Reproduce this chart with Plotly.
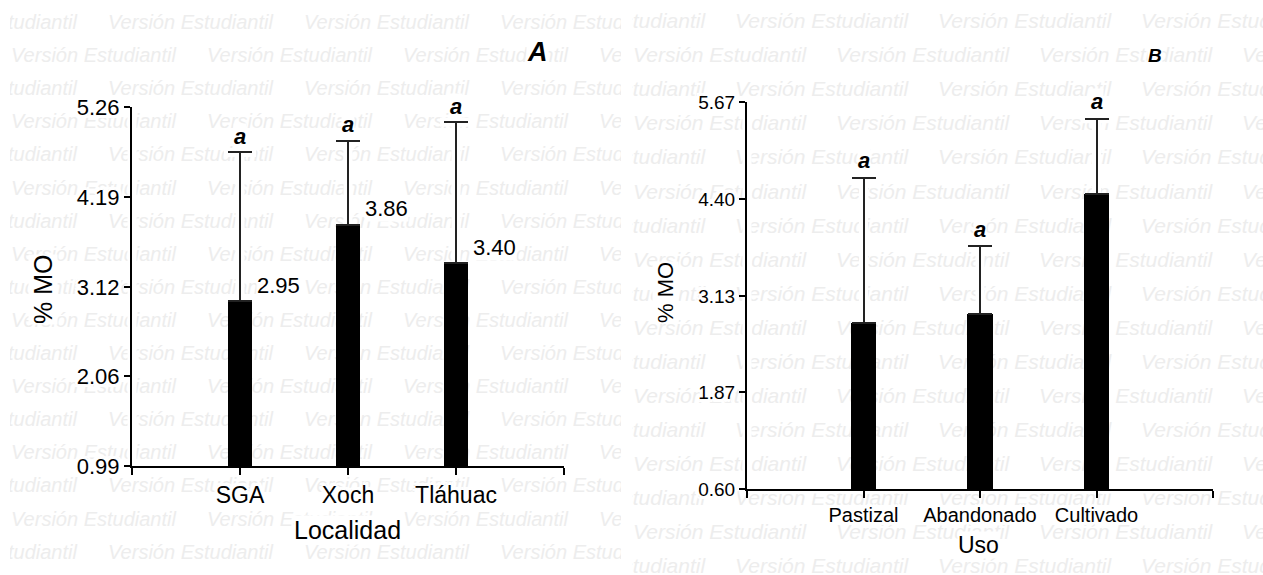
import plotly.graph_objects as go

W, H = 1263, 575
FONT = "Liberation Sans, Arial, sans-serif"

# ---------------- data ----------------
loc_categories = ["SGA", "Xoch", "Tláhuac"]
loc_means = [2.95, 3.86, 3.40]
loc_sd = [1.77, 1.00, 1.68]
loc_value_labels = ["2.95", "3.86", "3.40"]
loc_letters = ["a", "a", "a"]
loc_yticks = [0.99, 2.06, 3.12, 4.19, 5.26]

uso_categories = ["Pastizal", "Abandonado", "Cultivado"]
uso_means = [2.78, 2.89, 4.47]
uso_sd = [1.90, 0.89, 0.98]
uso_letters = ["a", "a", "a"]
uso_yticks = [0.60, 1.87, 3.13, 4.40, 5.67]

watermark_text = "Versión Estudiantil"

# ---------------- geometry (pixels) ----------------
A_BOX = dict(l=132, r=564, t=107, b=466)
B_BOX = dict(l=747, r=1213, t=102, b=489)
WM_L = dict(l=10, r=621, size=20, period=196, v0=11, t0=108 - 196, y0=24, dy=33.1, n=17)
WM_R = dict(l=632, r=1263, size=21, period=203, v0=633, t0=735 - 203, y0=23, dy=34.06, n=17)
WM_COLOR = "#ededed"
CAP_HALF = 12

def px(x):
    return x / W

def py(y):
    return 1 - y / H

fig = go.Figure()

# ---------------- watermark (drawn first, under everything) ----------------
def add_watermark(cfg, xa, ya, box, means, sd, yticks):
    xs, ys = [], []
    for j in range(cfg["n"]):
        y = cfg["y0"] + j * cfg["dy"]
        x = cfg["t0"] if j % 2 == 0 else cfg["v0"]
        while x < cfg["r"]:
            xs.append(x)
            ys.append(y)
            x += cfg["period"]
    fig.add_trace(go.Scatter(
        x=xs, y=ys, mode="text", text=[watermark_text] * len(xs),
        textposition="middle right",
        textfont=dict(family=FONT, size=cfg["size"], color=WM_COLOR, style="italic"),
        xaxis=xa, yaxis=ya, hoverinfo="skip", showlegend=False, cliponaxis=True))
    # white halo around axis lines and error bars (as the original software does)
    n = len(means)
    unit = (box["r"] - box["l"]) / (n + 1)
    def to_px(xv, yv):
        return (box["l"] + xv * unit,
                box["b"] - (yv - yticks[0]) / (yticks[-1] - yticks[0]) * (box["b"] - box["t"]))
    ex = [box["l"], box["l"], box["r"], None]
    ey = [box["t"] - 3, box["b"], box["b"], None]
    for i, (m, s) in enumerate(zip(means, sd)):
        x0, y0 = to_px(i + 1, m)
        _, y1 = to_px(i + 1, m + s)
        ex += [x0, x0, None, x0 - CAP_HALF - 4, x0 + CAP_HALF + 4, None]
        ey += [y0, y1, None, y1, y1, None]
    fig.add_trace(go.Scatter(
        x=ex, y=ey, mode="lines", line=dict(color="white", width=9),
        xaxis=xa, yaxis=ya, hoverinfo="skip", showlegend=False))

add_watermark(WM_L, "x", "y", A_BOX, loc_means, loc_sd, loc_yticks)
add_watermark(WM_R, "x2", "y2", B_BOX, uso_means, uso_sd, uso_yticks)

# ---------------- bar panels ----------------
def add_panel(cats, means, sd, xa, ya, width_frac):
    n = len(cats)
    fig.add_trace(go.Bar(
        x=list(range(1, n + 1)), y=means, width=width_frac,
        marker=dict(color="black", line=dict(width=0)),
        error_y=dict(type="data", symmetric=False, array=sd, arrayminus=[0] * n,
                     color="#222222", thickness=2, width=CAP_HALF),
        xaxis=xa, yaxis=ya, showlegend=False, hoverinfo="skip"))

add_panel(loc_categories, loc_means, loc_sd, "x3", "y3", 0.23)
add_panel(uso_categories, uso_means, uso_sd, "x4", "y4", 0.215)

halo = ", ".join(f"{dx}px {dy}px 0 #fff" for dx, dy in
                 [(3, 0), (-3, 0), (0, 3), (0, -3), (3, 3), (-3, -3), (3, -3), (-3, 3)])

def axis_pair(box, cats, yticks, xfs, yfs):
    n = len(cats)
    xa = dict(domain=[px(box["l"]), px(box["r"])], range=[0, n + 1],
              tickmode="array", tickvals=list(range(0, n + 2)),
              ticktext=[""] + cats + [""],
              ticks="outside", ticklen=7, tickwidth=2, tickcolor="black",
              showline=True, linewidth=2, linecolor="black", automargin=False,
              showgrid=False, zeroline=False, fixedrange=True,
              tickfont=dict(family=FONT, size=xfs, color="black", shadow=halo))
    ya = dict(domain=[py(box["b"]), py(box["t"])], range=[yticks[0], yticks[-1]],
              tickmode="array", tickvals=yticks, ticktext=[f"{v:.2f}" for v in yticks],
              ticks="outside", ticklen=6, tickwidth=2, tickcolor="black",
              showline=True, linewidth=2, linecolor="black", automargin=False,
              showgrid=False, zeroline=False, fixedrange=True,
              tickfont=dict(family=FONT, size=yfs, color="black", shadow=halo))
    return xa, ya

xa3, ya3 = axis_pair(A_BOX, loc_categories, loc_yticks, 23, 22)
xa4, ya4 = axis_pair(B_BOX, uso_categories, uso_yticks, 20, 19)
xa3["anchor"] = "y3"; ya3["anchor"] = "x3"
xa4["anchor"] = "y4"; ya4["anchor"] = "x4"

annotations = []
for i, (m, s, t) in enumerate(zip(loc_means, loc_sd, loc_letters)):
    annotations.append(dict(x=i + 1, y=m + s, xref="x3", yref="y3", text=f"<b><i>{t}</i></b>",
                            showarrow=False, yshift=16, bgcolor="white", borderpad=0,
                            font=dict(family=FONT, size=22, color="black")))
for i, (m, v) in enumerate(zip(loc_means, loc_value_labels)):
    annotations.append(dict(x=i + 1, y=m, xref="x3", yref="y3", text=v,
                            showarrow=False, xshift=38, yshift=16, bgcolor="white", borderpad=0,
                            font=dict(family=FONT, size=22, color="black")))
for i, (m, s, t) in enumerate(zip(uso_means, uso_sd, uso_letters)):
    annotations.append(dict(x=i + 1, y=m + s, xref="x4", yref="y4", text=f"<b><i>{t}</i></b>",
                            showarrow=False, yshift=17, bgcolor="white", borderpad=0,
                            font=dict(family=FONT, size=22, color="black")))

def paper_text(text, x, y, size, angle=0, bold_italic=False):
    t = f"<b><i>{text}</i></b>" if bold_italic else text
    annotations.append(dict(x=px(x), y=py(y), xref="paper", yref="paper", text=t,
                            showarrow=False, textangle=angle, bgcolor="white", borderpad=0,
                            xanchor="center", yanchor="middle",
                            font=dict(family=FONT, size=size, color="black")))

paper_text("A", 537, 52, 27, bold_italic=True)
paper_text("B", 1155, 55, 19, bold_italic=True)
paper_text("% MO", 43, 290, 25, angle=-90)
paper_text("% MO", 665, 293, 22, angle=-90)
paper_text("Localidad", 348, 530, 25)
paper_text("Uso", 978, 545, 23)

wm_axis = dict(visible=False, fixedrange=True, automargin=False)
fig.update_layout(
    width=W, height=H, autosize=False,
    margin=dict(l=0, r=0, t=0, b=0, pad=0, autoexpand=False),
    paper_bgcolor="white", plot_bgcolor="rgba(0,0,0,0)",
    showlegend=False, bargap=0,
    xaxis=dict(wm_axis, domain=[px(WM_L["l"]), px(WM_L["r"])], range=[WM_L["l"], WM_L["r"]], anchor="y"),
    yaxis=dict(wm_axis, domain=[0, 1], range=[H, 0], anchor="x"),
    xaxis2=dict(wm_axis, domain=[px(WM_R["l"]), 1], range=[WM_R["l"], WM_R["r"]], anchor="y2"),
    yaxis2=dict(wm_axis, domain=[0, 1], range=[H, 0], anchor="x2"),
    xaxis3=xa3, yaxis3=ya3, xaxis4=xa4, yaxis4=ya4,
    annotations=annotations,
)

page_css = (
    "document.documentElement.style.cssText='margin:0;padding:0;overflow:hidden';"
    "document.body.style.cssText='margin:0;padding:0;overflow:hidden';"
)

fig.write_html(
    "out.html",
    config={"displayModeBar": False, "responsive": False},
    post_script=page_css,
)
